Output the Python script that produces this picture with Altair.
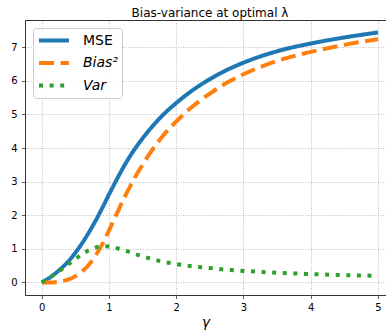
import altair as alt
import pandas as pd

gamma = [0, 0.1, 0.2, 0.3, 0.4, 0.5, 0.6, 0.7, 0.8, 0.9, 1.0, 1.1, 1.2, 1.3, 1.4,
         1.5, 1.6, 1.8, 2.0, 2.25, 2.5, 2.75, 3.0, 3.5, 4.0, 4.5, 5.0]
mse = [0, 0.12, 0.27, 0.44, 0.64, 0.89, 1.17, 1.49, 1.84, 2.22, 2.62, 3.01, 3.38, 3.72,
       4.02, 4.29, 4.54, 4.98, 5.34, 5.73, 6.05, 6.32, 6.54, 6.88, 7.11, 7.29, 7.44]
bias2 = [0, 0.0, 0.01, 0.04, 0.09, 0.19, 0.33, 0.53, 0.80, 1.14, 1.55, 1.98, 2.41, 2.81,
         3.18, 3.51, 3.82, 4.36, 4.79, 5.25, 5.62, 5.94, 6.195, 6.59, 6.86, 7.07, 7.24]
var = [0, 0.12, 0.26, 0.40, 0.55, 0.70, 0.84, 0.96, 1.04, 1.08, 1.07, 1.03, 0.97, 0.91,
       0.84, 0.78, 0.72, 0.62, 0.55, 0.48, 0.43, 0.38, 0.345, 0.29, 0.25, 0.22, 0.20]

series_names = ["MSE", "Bias²", "Var"]
series_colors = ["#1f77b4", "#ff7f0e", "#2ca02c"]
series_dash = [[1, 0], [15, 6.5], [4, 6.6]]
x_ticks = [0, 1, 2, 3, 4, 5]
y_ticks = [0, 1, 2, 3, 4, 5, 6, 7]

rows = []
for name, vals in zip(series_names, [mse, bias2, var]):
    for g, v in zip(gamma, vals):
        rows.append({"gamma": g, "value": v, "series": name})
df = pd.DataFrame(rows)

FONT = "DejaVu Sans"

xscale = alt.Scale(domain=[-0.25, 5.12], nice=False, zero=False)
yscale = alt.Scale(domain=[-0.372, 7.81], nice=False, zero=False)

legend = alt.Legend(
    title=None, orient="none", legendX=8, legendY=8,
    labelFont=FONT, labelFontSize=14, labelColor="#000000",
    labelFontStyle=alt.ExprRef(expr="datum.label == 'MSE' ? 'normal' : 'italic'"),
    symbolType="stroke", symbolSize=900, symbolStrokeWidth=4,
    clipHeight=17, rowPadding=5.5, padding=4, labelOffset=12,
    fillColor="rgba(255,255,255,0.8)", strokeColor="#cccccc", cornerRadius=3,
)

lines = alt.Chart(df).mark_line(strokeWidth=4, strokeCap="butt", interpolate="monotone").encode(
    x=alt.X("gamma:Q", scale=xscale,
            axis=alt.Axis(values=x_ticks, title="γ", titleFontStyle="italic",
                          titleFont=FONT, titleFontSize=14, titleFontWeight="normal",
                          titleColor="#000000", titlePadding=3, labelPadding=4,
                          labelOverlap=False)),
    y=alt.Y("value:Q", scale=yscale,
            axis=alt.Axis(values=y_ticks, title=None, labelPadding=4.5,
                          labelOverlap=False)),
    color=alt.Color("series:N", sort=series_names,
                    scale=alt.Scale(domain=series_names, range=series_colors),
                    legend=legend),
    strokeDash=alt.StrokeDash("series:N", sort=series_names,
                              scale=alt.Scale(domain=series_names, range=series_dash),
                              legend=legend),
)

top_axis = alt.Chart(df).mark_line(opacity=0).encode(
    x=alt.X("gamma:Q", scale=xscale,
            axis=alt.Axis(orient="top", labels=False, ticks=False, grid=False,
                          title=None, domain=True)),
    y=alt.Y("value:Q", scale=yscale, axis=None),
)

chart = alt.layer(lines, top_axis).resolve_axis(x="independent", y="independent").properties(
    width=361, height=275,
    title=alt.TitleParams("Bias-variance at optimal λ", font=FONT, fontSize=12,
                          fontWeight="normal", color="#000000", anchor="middle",
                          offset=4.5, baseline="alphabetic", dx=4.5, dy=13),
    autosize=alt.AutoSizeParams(type="none"),
    padding={"left": 25, "top": 20, "right": 0, "bottom": 37},
    background="white",
).configure_view(stroke=None).configure_axis(
    labelFont=FONT, labelFontSize=10, labelColor="#000000",
    domainColor="#333333", domainWidth=1,
    tickColor="#333333", tickSize=3.5, tickWidth=0.8,
    gridColor="#b0b0b0", gridDash=[1, 1.5], gridWidth=0.8,
)

chart.save("out.html", embed_options={"renderer": "svg", "actions": False})
